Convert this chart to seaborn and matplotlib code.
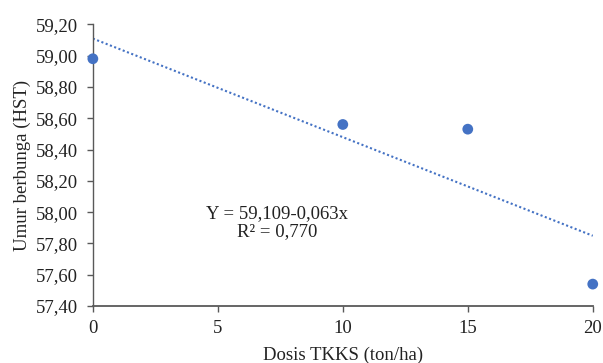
import matplotlib
matplotlib.use("Agg")
import matplotlib.pyplot as plt
import seaborn as sns
import numpy as np

# data
dosis = [0, 10, 15, 20]
umur = [58.98, 58.56, 58.53, 57.54]
intercept = 59.109
slope = -0.063
y_ticks = [57.40, 57.60, 57.80, 58.00, 58.20, 58.40, 58.60, 58.80, 59.00, 59.20]
x_ticks = [0, 5, 10, 15, 20]

sns.set_style("white")
plt.rcParams['font.family'] = ['Liberation Serif', 'DejaVu Serif']

blue = '#4472C4'
fs = 13.5
fig, ax = plt.subplots(figsize=(6.03, 3.63), dpi=100)
fig.subplots_adjust(left=0.154, right=0.983, top=0.933, bottom=0.157)

# trendline from the fitted equation
trend_x = np.array([min(dosis), max(dosis)])
trend_y = intercept + slope * trend_x
sns.lineplot(x=trend_x, y=trend_y, ax=ax, color=blue, linestyle=(0, (1, 1.2)), linewidth=1.5)
sns.scatterplot(x=dosis, y=umur, ax=ax, color=blue, s=60, edgecolor='none', zorder=3, clip_on=False)

ax.set_xlim(0, 20)
ax.set_ylim(57.40, 59.20)
ax.set_xticks(x_ticks)
ax.set_yticks(y_ticks)
ax.set_yticklabels([f"{v:.2f}".replace('.', ',') for v in y_ticks])
ax.tick_params(axis='both', labelsize=fs, length=4, width=1, color='#595959',
               direction='out', left=True, bottom=True, labelcolor='#222222')
ax.tick_params(axis='x', pad=6)
ax.tick_params(axis='y', pad=7)

for side in ['top', 'right']:
    ax.spines[side].set_visible(False)
for side in ['left', 'bottom']:
    ax.spines[side].set_color('#595959')
    ax.spines[side].set_linewidth(1.3)
ax.spines['left'].set_linewidth(1.0)

ax.set_xlabel('Dosis TKKS (ton/ha)', fontsize=fs, color='#222222', labelpad=7)
ax.set_ylabel('Umur berbunga (HST)', fontsize=fs, color='#222222', labelpad=3)

ax.text(7.36, 57.935, 'Y = 59,109-0,063x\nR² = 0,770', ha='center', va='center',
        fontsize=fs, color='#222222', linespacing=1.1)

fig.savefig('out.png', dpi=100)
